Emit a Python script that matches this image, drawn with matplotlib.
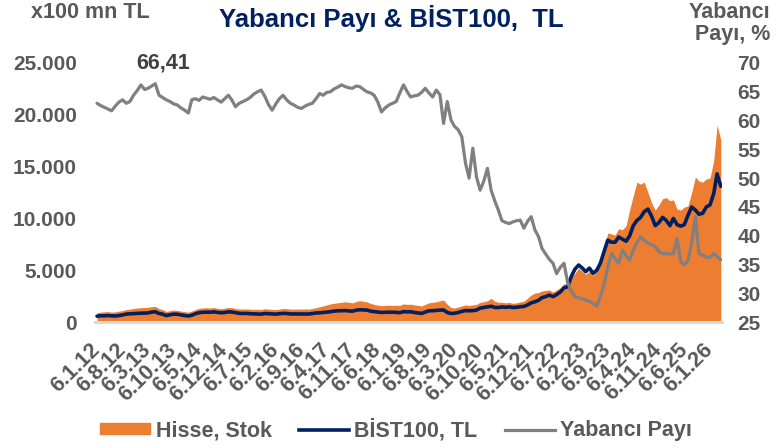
import matplotlib
matplotlib.use('Agg')
import matplotlib.pyplot as plt
from matplotlib.ticker import FuncFormatter
from matplotlib.patches import Patch
from matplotlib.lines import Line2D
import numpy as np
import pandas as pd

# monthly readings, Jan 2012 ->
# Hisse stok (x100 mn TL, left axis)
stok = [
    900, 950, 980, 1000, 950, 980, 1050, 1100, 1200, 1250,
    1300, 1350, 1380, 1400, 1420, 1480, 1500, 1300, 1200, 1000,
    1100, 1150, 1120, 1050, 1000, 950, 1050, 1200, 1320, 1350,
    1380, 1350, 1400, 1320, 1280, 1330, 1400, 1380, 1300, 1250,
    1250, 1260, 1240, 1220, 1230, 1200, 1280, 1250, 1200, 1200,
    1250, 1300, 1290, 1240, 1240, 1250, 1240, 1260, 1240, 1300,
    1380, 1480, 1550, 1650, 1750, 1800, 1850, 1900, 1950, 1900,
    1850, 1980, 2060, 2000, 1950, 1800, 1700, 1620, 1580, 1600,
    1620, 1600, 1620, 1600, 1750, 1700, 1720, 1650, 1600, 1550,
    1700, 1850, 1900, 1950, 2050, 2120, 1700, 1400, 1350, 1450,
    1550, 1650, 1600, 1650, 1700, 1900, 1950, 2050, 2290, 2000,
    1900, 1900, 1850, 1900, 1800, 1850, 1950, 2000, 2300, 2600,
    2800, 2850, 3000, 3050, 3090, 2900, 3100, 3300, 3700, 3600,
    4300, 4700, 5200, 4900, 4600, 4900, 4500, 4900, 5600, 7000,
    8600, 8500, 8400, 9000, 8900, 9300, 10800, 12200, 13500, 13300,
    13500, 12500, 11500, 10800, 11300, 11900, 12000, 11700, 11800, 10900,
    10800, 11100, 11200, 12500, 14000, 13600, 13500, 13800, 13900, 15600,
    19000, 17600,
]

# BIST100 (left axis)
bist = [
    560, 600, 600, 620, 600, 580, 620, 680, 770, 790,
    800, 840, 850, 860, 880, 950, 990, 820, 760, 620,
    700, 760, 750, 690, 620, 580, 650, 800, 900, 940,
    950, 940, 980, 930, 890, 920, 980, 960, 900, 840,
    820, 830, 800, 780, 770, 760, 820, 800, 780, 760,
    800, 830, 820, 780, 780, 790, 780, 790, 770, 820,
    870, 890, 920, 950, 990, 1050, 1080, 1090, 1100, 1070,
    1040, 1140, 1180, 1160, 1150, 1050, 1000, 960, 920, 940,
    950, 940, 930, 900, 1000, 980, 990, 920, 880, 830,
    960, 1080, 1090, 1120, 1150, 1160, 920, 820, 840, 920,
    1020, 1100, 1090, 1100, 1150, 1340, 1400, 1450, 1520, 1400,
    1400, 1450, 1420, 1460, 1400, 1420, 1480, 1500, 1650, 1850,
    1950, 2100, 2350, 2450, 2600, 2450, 2650, 2900, 3300, 3400,
    4400, 5100, 5500, 5200, 4860, 5200, 4700, 5000, 5660, 6800,
    7900, 7700, 7700, 8200, 8000, 7800, 8300, 9300, 9800, 10100,
    10650, 10900, 10200, 9300, 9600, 10100, 9800, 9300, 10000, 9400,
    9250, 9400, 10300, 11100, 10800, 10400, 10500, 11100, 11300, 12400,
    14300, 13100,
]

# Yabanci payi, % (right axis)
yabanci = [
    63.0, 62.6, 62.3, 62.0, 61.7, 62.5, 63.2, 63.6, 63.0, 63.3,
    64.4, 65.2, 66.2, 65.4, 65.6, 66.0, 66.41, 64.4, 64.0, 63.6,
    63.3, 62.9, 62.7, 62.2, 61.8, 61.3, 63.6, 63.8, 63.5, 64.1,
    63.9, 63.7, 64.0, 63.6, 63.2, 63.8, 64.4, 63.5, 62.4, 63.0,
    63.3, 63.6, 64.0, 64.6, 65.0, 65.3, 64.2, 62.8, 61.8, 62.9,
    63.8, 64.4, 63.6, 63.0, 62.7, 62.3, 62.1, 62.5, 62.8, 63.0,
    63.8, 64.7, 64.4, 64.9, 65.0, 65.5, 65.8, 66.2, 65.9, 65.7,
    65.6, 66.0, 65.9, 65.4, 65.0, 64.8, 64.4, 63.2, 61.5, 62.2,
    62.7, 63.0, 63.3, 64.8, 66.2, 65.0, 64.1, 64.3, 64.4, 64.9,
    65.6, 64.8, 64.1, 65.3, 64.5, 59.5, 63.3, 60.1, 59.0, 58.4,
    57.2, 52.6, 50.0, 55.2, 50.2, 47.9, 49.5, 51.7, 47.9, 46.0,
    44.5, 42.6, 42.3, 42.1, 42.4, 42.6, 42.7, 41.3, 42.5, 43.3,
    41.0, 39.8, 37.8, 36.8, 35.9, 35.2, 33.4, 34.5, 35.2, 31.9,
    30.3, 29.4, 29.2, 29.0, 28.8, 28.6, 28.2, 27.8, 29.4, 31.5,
    34.5, 36.9, 36.0, 35.2, 37.5, 36.5, 35.8, 37.5, 38.8, 39.8,
    39.2, 38.7, 38.4, 38.1, 37.2, 36.9, 36.9, 36.8, 36.9, 39.5,
    35.5, 34.9, 35.6, 38.7, 43.3, 36.9, 36.6, 36.3, 36.2, 36.9,
    36.4, 35.8,
]

dates = pd.date_range('2012-01-01', periods=len(stok), freq='MS') + pd.Timedelta(days=5)
tick_dates = pd.date_range('2012-01-01', '2026-01-01', freq='7MS') + pd.Timedelta(days=5)
tick_labels = [f"{d.day}.{d.month}.{d:%y}" for d in tick_dates]

ORANGE = '#ED7D31'
NAVY = '#002060'
GRAY = '#808080'
TXT = '#595959'

plt.rcParams['font.family'] = 'Liberation Sans'
plt.rcParams['font.weight'] = 'bold'
plt.rcParams['font.size'] = 15

fig = plt.figure(figsize=(7.82, 4.48), dpi=100)
ax = fig.add_axes([95/782, 1 - 322/448, 627/782, 259/448])
ax2 = ax.twinx()

ax.fill_between(dates, stok, 0, color=ORANGE, lw=0, zorder=2)
ax.plot(dates, bist, color=NAVY, lw=2.6, solid_capstyle='round', zorder=3)
ax2.plot(dates, yabanci, color=GRAY, lw=2.3, solid_capstyle='round')

ax.set_ylim(0, 25000)
ax2.set_ylim(25, 70)
ax.set_yticks(range(0, 25001, 5000))
ax2.set_yticks(range(25, 71, 5))
ax.yaxis.set_major_formatter(FuncFormatter(lambda v, p: f"{int(v):,}".replace(',', '.')))
ax.set_xlim(dates[0] - pd.Timedelta(days=17), dates[-1] + pd.Timedelta(days=10))
ax.set_xticks(tick_dates)
ax.set_xticklabels(tick_labels, rotation=45, ha='right', va='center', rotation_mode='anchor',
                   fontsize=15.5)

ax.tick_params(axis='x', length=0, pad=18, colors=TXT)
ax.tick_params(axis='y', length=0, pad=13, colors=TXT)
ax2.tick_params(axis='y', length=0, pad=11, colors=TXT)

for s in ['top', 'left', 'right']:
    ax.spines[s].set_visible(False)
ax.spines['bottom'].set_color('#D9D9D9')
ax.spines['bottom'].set_linewidth(2.2)
for s in ax2.spines.values():
    s.set_visible(False)

# peak label
i_max = int(np.argmax(yabanci))
ax2.annotate(f"{yabanci[i_max]:.2f}".replace('.', ','), xy=(dates[i_max], yabanci[i_max]),
             xytext=(6, 7), textcoords='offset points', ha='center', va='bottom',
             color='#404040', fontsize=15.5)

fig.text(0.5, 1 - 19/448, 'Yabancı Payı & BİST100,  TL', ha='center', va='center',
         fontsize=18.5, color=NAVY)
fig.text(90/782, 1 - 13/448, 'x100 mn TL', ha='center', va='center', color=TXT, fontsize=15.5)
fig.text(770/782, 1 - 2/448, 'Yabancı\nPayı, %', ha='right', va='top', multialignment='right',
         color=TXT, linespacing=1.05, fontsize=15.5)

handles = [Patch(color=ORANGE), Line2D([], [], color=NAVY, lw=2.6), Line2D([], [], color=GRAY, lw=2.3)]
fig.legend(handles, ['Hisse, Stok', 'BİST100, TL', 'Yabancı Payı'], loc='center',
           bbox_to_anchor=(396/782, 1 - 430/448), ncol=3, frameon=False, handlelength=2.35,
           handleheight=0.4, handletextpad=0.25, columnspacing=1.25, labelcolor=TXT,
           fontsize=15.5)

fig.savefig('out.png', dpi=100)
